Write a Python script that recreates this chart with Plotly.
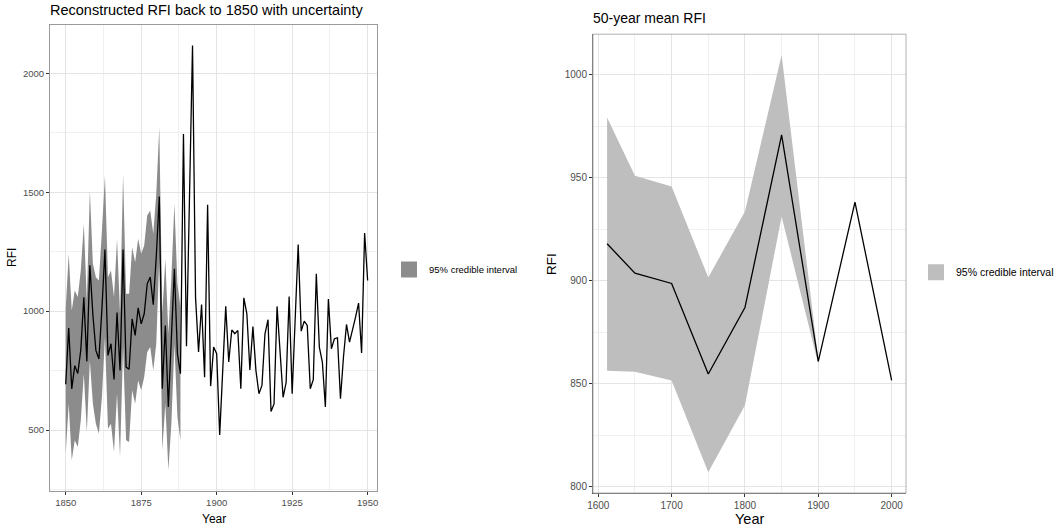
import plotly.graph_objects as go

# ---------------- data: left panel (annual reconstruction) ----------------
years_annual = list(range(1850, 1951))
rfi_annual = [693, 929, 673, 771, 738, 837, 1058, 789, 1193, 985,
              835, 799, 1010, 1259, 814, 863, 713, 994, 751, 1259,
              765, 756, 968, 898, 1014, 947, 989, 1115, 1143, 1027,
              1230, 1482, 674, 940, 597, 863, 1178, 821, 737, 1745,
              852, 1479, 2117, 1059, 828, 1028, 722, 1447, 685, 849,
              821, 480, 760, 1020, 786, 921, 905, 919, 674, 1056,
              989, 753, 935, 751, 653, 688, 905, 964, 578, 610,
              1020, 828, 638, 700, 1061, 653, 975, 1280, 916, 958,
              940, 674, 712, 1157, 849, 786, 597, 1051, 842, 884,
              888, 632, 807, 944, 870, 919, 975, 1034, 824, 1328,
              1129]
ribbon_years = list(range(1850, 1889))
ribbon_upper = [1010, 1241, 1003, 1087, 1059, 1171, 1367, 1045, 1507, 1199,
                1143, 1129, 1339, 1570, 1143, 1171, 1059, 1304, 989, 1577,
                1073, 1073, 1269, 1206, 1304, 1241, 1276, 1402, 1423, 1325,
                1493, 1773, 989, 1220, 905, 1143, 1451, 1115, 1017]
ribbon_lower = [401, 611, 373, 457, 429, 541, 737, 492, 793, 611,
                527, 485, 639, 891, 506, 527, 408, 653, 387, 849,
                457, 450, 667, 611, 709, 667, 723, 828, 849, 751,
                863, 1227, 415, 611, 331, 527, 863, 555, 457]

# ---------------- data: right panel (50-year means) ----------------
mean_years = [1612, 1650, 1700, 1750, 1800, 1850, 1900, 1950, 2000]
mean_rfi = [918, 903.7, 898.7, 854.7, 887, 970.9, 860.8, 938.2, 851.6]
mean_ribbon_years = [1612, 1650, 1700, 1750, 1800, 1850, 1900]
mean_upper = [979.3, 951, 945.8, 901.6, 933.7, 1009.7, 862]
mean_lower = [856.3, 855.8, 851.6, 807, 839.5, 931.2, 859.5]

legend_label = "95% credible interval"
left_title = "Reconstructed RFI back to 1850 with uncertainty"
right_title = "50-year mean RFI"

W, H = 1058, 529
FONT = "Liberation Sans, Arial, Helvetica, sans-serif"
LEFT_FILL = "#8c8c8c"
RIGHT_FILL = "#bebebe"

fig = go.Figure()

# left ribbon
fig.add_trace(go.Scatter(x=ribbon_years, y=ribbon_upper, mode="lines",
                         line=dict(width=0), showlegend=False,
                         hoverinfo="skip", xaxis="x", yaxis="y"))
fig.add_trace(go.Scatter(x=ribbon_years, y=ribbon_lower, mode="lines",
                         line=dict(width=0), fill="tonexty",
                         fillcolor=LEFT_FILL, showlegend=False,
                         hoverinfo="skip", xaxis="x", yaxis="y"))
fig.add_trace(go.Scatter(x=years_annual, y=rfi_annual, mode="lines",
                         line=dict(color="black", width=1.3),
                         showlegend=False, xaxis="x", yaxis="y"))
fig.add_trace(go.Scatter(x=[None], y=[None], mode="markers",
                         marker=dict(symbol="square", size=16, color=LEFT_FILL),
                         name=legend_label, legend="legend",
                         xaxis="x", yaxis="y"))

# right ribbon
fig.add_trace(go.Scatter(x=mean_ribbon_years, y=mean_upper, mode="lines",
                         line=dict(width=0), showlegend=False,
                         hoverinfo="skip", xaxis="x2", yaxis="y2"))
fig.add_trace(go.Scatter(x=mean_ribbon_years, y=mean_lower, mode="lines",
                         line=dict(width=0), fill="tonexty",
                         fillcolor=RIGHT_FILL, showlegend=False,
                         hoverinfo="skip", xaxis="x2", yaxis="y2"))
fig.add_trace(go.Scatter(x=mean_years, y=mean_rfi, mode="lines",
                         line=dict(color="black", width=1.3),
                         showlegend=False, xaxis="x2", yaxis="y2"))
fig.add_trace(go.Scatter(x=[None], y=[None], mode="markers",
                         marker=dict(symbol="square", size=18, color=RIGHT_FILL),
                         name=legend_label, legend="legend2",
                         xaxis="x2", yaxis="y2"))

# panel geometry (pixels)
L_x0, L_x1, L_y0, L_y1 = 50, 377, 24.5, 491
R_x0, R_x1, R_y0, R_y1 = 593, 906, 34.2, 493

grid_major = "#e4e4e4"
grid_minor = "#f0f0f0"
tickfont_l = dict(family=FONT, size=9.5, color="#4d4d4d")
tickfont_r = dict(family=FONT, size=10, color="#4d4d4d")

common = dict(showgrid=True, gridcolor=grid_major, gridwidth=1,
              zeroline=False, ticks="outside", ticklen=3, tickwidth=1,
              tickcolor="#333333", automargin=False)

fig.update_layout(
    width=W, height=H,
    margin=dict(l=0, r=0, t=0, b=0, autoexpand=False),
    paper_bgcolor="white", plot_bgcolor="white",
    font=dict(family=FONT, color="black"),
    xaxis=dict(domain=[L_x0 / W, L_x1 / W], range=[1844.8, 1953.1],
               tick0=1850, dtick=25, tickfont=tickfont_l,
               showline=True, mirror=True, linecolor="#9a9a9a", linewidth=1,
               minor=dict(dtick=12.5, showgrid=True, gridcolor=grid_minor,
                          gridwidth=0.7),
               anchor="y", **common),
    yaxis=dict(domain=[1 - L_y1 / H, 1 - L_y0 / H], range=[244, 2205],
               tick0=0, dtick=500, tickfont=tickfont_l,
               showline=True, mirror=True, linecolor="#9a9a9a", linewidth=1,
               minor=dict(dtick=250, showgrid=True, gridcolor=grid_minor,
                          gridwidth=0.7),
               anchor="x", **common),
    xaxis2=dict(domain=[R_x0 / W, R_x1 / W], range=[1592.8, 2019.6],
                tick0=1600, dtick=100, tickfont=tickfont_r,
                showline=True, mirror=False, linecolor="#555555", linewidth=1,
                minor=dict(dtick=50, showgrid=True, gridcolor=grid_minor,
                           gridwidth=0.7),
                anchor="y2", **common),
    yaxis2=dict(domain=[1 - R_y1 / H, 1 - R_y0 / H], range=[796.9, 1019.8],
                tick0=800, dtick=50, tickfont=tickfont_r,
                showline=True, mirror=False, linecolor="#555555", linewidth=1,
                minor=dict(dtick=25, showgrid=True, gridcolor=grid_minor,
                           gridwidth=0.7),
                anchor="x2", **common),
    legend=dict(x=389 / W, y=1 - 269.5 / H, xanchor="left", yanchor="middle",
                font=dict(family=FONT, size=9.5, color="black"),
                bgcolor="rgba(0,0,0,0)", itemwidth=30),
    legend2=dict(x=916 / W, y=1 - 272.3 / H, xanchor="left", yanchor="middle",
                 font=dict(family=FONT, size=10.5, color="black"),
                 bgcolor="rgba(0,0,0,0)", itemwidth=30),
)

# light border on top/right of right panel
fig.add_shape(type="rect", xref="x2 domain", yref="y2 domain",
              x0=0, x1=1, y0=0, y1=1, line=dict(color="#b0b0b0", width=1),
              layer="above")

ann = []
ann.append(dict(text=left_title, x=(L_x0 - 2) / W, y=1 - 10 / H, xref="paper",
                yref="paper", xanchor="left", yanchor="middle",
                showarrow=False, font=dict(family=FONT, size=14.5)))
ann.append(dict(text=right_title, x=(R_x0 - 2) / W, y=1 - 18 / H, xref="paper",
                yref="paper", xanchor="left", yanchor="middle",
                showarrow=False, font=dict(family=FONT, size=14)))
ann.append(dict(text="Year", x=(L_x0 + L_x1) / 2 / W, y=1 - 519 / H,
                xref="paper", yref="paper", xanchor="center", yanchor="middle",
                showarrow=False, font=dict(family=FONT, size=12)))
ann.append(dict(text="Year", x=(R_x0 + R_x1) / 2 / W, y=1 - 519 / H,
                xref="paper", yref="paper", xanchor="center", yanchor="middle",
                showarrow=False, font=dict(family=FONT, size=14.5)))
ann.append(dict(text="RFI", x=12 / W, y=1 - 258 / H, xref="paper",
                yref="paper", xanchor="center", yanchor="middle",
                textangle=-90, showarrow=False, font=dict(family=FONT, size=12)))
ann.append(dict(text="RFI", x=551 / W, y=1 - 264 / H, xref="paper",
                yref="paper", xanchor="center", yanchor="middle",
                textangle=-90, showarrow=False, font=dict(family=FONT, size=13.5)))
fig.update_layout(annotations=ann)

fig.write_html("out.html", config={"displayModeBar": False},
               post_script="document.body.style.margin='0px';"
                           "document.body.style.overflow='hidden';")
